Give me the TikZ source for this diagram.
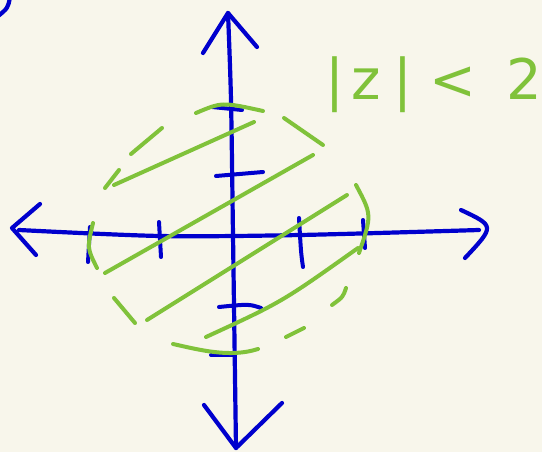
\documentclass[tikz,border=0pt]{standalone}
\usepackage{fontspec}
\newfontfamily\handfont{DejaVu Sans}
\usetikzlibrary{calc}

\definecolor{penblue}{RGB}{0,0,205}
\definecolor{pengreen}{RGB}{128,194,58}
\definecolor{paper}{RGB}{248,246,235}

\begin{document}
\begin{tikzpicture}[x=1pt, y=-1pt,
  axis/.style={draw=penblue, line width=4.2pt, line cap=round, line join=round},
  tickmark/.style={draw=penblue, line width=4pt, line cap=round},
  rim/.style={draw=pengreen, line width=4pt, line cap=round},
  hatch/.style={draw=pengreen, line width=4pt, line cap=round},
  note/.style={text=pengreen, font=\handfont\fontsize{56}{56}\selectfont, inner sep=0pt}
]
\fill[paper] (0,0) rectangle (542,452);
\useasboundingbox (0,0) rectangle (542,452);

% axes
\coordinate (xl) at (19,230);
\coordinate (xr) at (479,230);
\coordinate (yt) at (228,13);
\coordinate (yb) at (236,448);

\draw[axis] (10,-3) .. controls (8,8) .. (-3,17);

\draw[axis] plot[smooth] coordinates {(xl) (160,236) (300,235) (xr)};
\draw[axis] plot[smooth] coordinates {(yt) (231,100) (233,235) (yb)};

% heads
\draw[axis] (40,204) -- (12,228) -- (36,255);
\draw[axis] (461,210) .. controls (495,226) .. (465,258);
\draw[axis] (203,53) -- (yt) -- (257,47);
\draw[axis] (204,405) -- (yb) -- (282,403);

% ticks
\draw[tickmark] (90,227) -- (88,262);
\draw[tickmark] (159,222) -- (161,257);
\draw[tickmark] (299,218) .. controls (301,253) .. (303,267);
\draw[tickmark] (363,220) -- (365,248);
\draw[tickmark] (212,107) -- (242,110);
\draw[tickmark] (216,176) -- (263,172);
\draw[tickmark] (219,307) .. controls (249,304) .. (261,308);
\draw[tickmark] (211,355) -- (235,355);

% dashed circle
\draw[rim] (196,113) .. controls (222,102) .. (263,111);
\draw[rim] (284,118) -- (323,145);
\draw[rim] (356,185) .. controls (372,215) .. (359,253);
\draw[rim] (346,288) .. controls (343,297) .. (332,305);
\draw[rim] (304,328) -- (286,337);
\draw[rim] (258,349) .. controls (230,358) and (200,350) .. (173,344);
\draw[rim] (114,298) -- (135,323);
\draw[rim] (93,223) .. controls (87,248) .. (97,268);
\draw[rim] (105,188) -- (119,170);
\draw[rim] (131,154) -- (162,128);

% shading
\draw[hatch] (114,185) -- (254,122);
\draw[hatch] (105,273) -- (313,155);
\draw[hatch] (147,320) -- (347,195);
\draw[hatch] (206,337) .. controls (282,302) .. (358,248);

\node[note] (modz) at (434,85) {|\hspace{7pt}z\hspace{13pt}|\hspace{17pt}<\hspace{30pt}2};
\end{tikzpicture}
\end{document}
